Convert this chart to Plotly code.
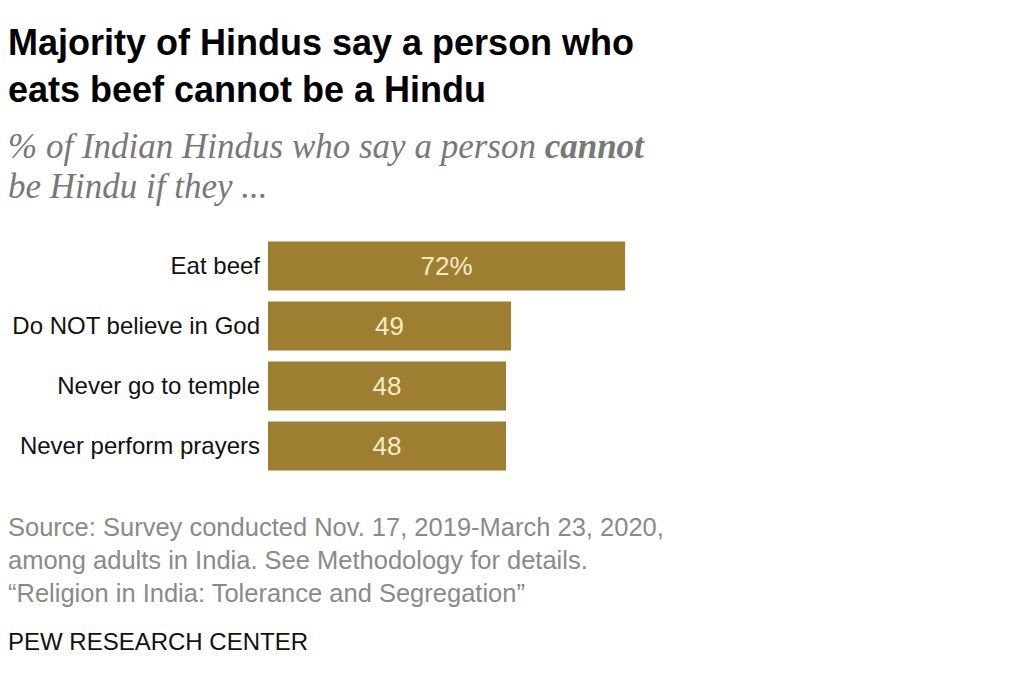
import plotly.graph_objects as go

# data
categories = ["Eat beef", "Do NOT believe in God", "Never go to temple", "Never perform prayers"]
values = [72, 49, 48, 48]
value_labels = ["72%", "49", "48", "48"]

title_text = "<b>Majority of Hindus say a person who<br>eats beef cannot be a Hindu</b>"
subtitle_lines = [
    "<i>% of Indian Hindus who say a person <b>cannot</b></i>",
    "<i>be Hindu if they ...</i>",
]
source_lines = [
    "Source: Survey conducted Nov. 17, 2019-March 23, 2020,",
    "among adults in India. See Methodology for details.",
    "\u201cReligion in India: Tolerance and Segregation\u201d",
]
credit_text = "PEW RESEARCH CENTER"

W, H = 1024, 680
OFF = 8  # page body margin, screen px = figure px + OFF
ML, MR, MT, MB = 260, 100, 228, 212
PW, PH = W - ML - MR, H - MT - MB
PX_PER_PCT = 4.96

BAR_COLOR = "#9E7F32"
SANS = "Liberation Sans, Arial, sans-serif"
SERIF = "Liberation Serif, Georgia, serif"


def px_x(p):
    # screen px -> paper x
    return (p - OFF - ML) / PW


def px_y(p):
    # screen px -> paper y
    return 1 - (p - OFF - MT) / PH


def text_note(text, x, y, size, color, family=SANS, yanchor="middle"):
    return dict(text=text, x=px_x(x), y=px_y(y), xanchor="left", yanchor=yanchor,
                align="left", showarrow=False, xref="paper", yref="paper",
                font=dict(family=family, size=size, color=color))


fig = go.Figure()
fig.add_trace(go.Bar(
    x=values,
    y=categories,
    orientation="h",
    marker=dict(color=BAR_COLOR, line=dict(width=0)),
    text=value_labels,
    textposition="inside",
    insidetextanchor="middle",
    textfont=dict(color="#F6EBC8", size=26, family=SANS),
    hoverinfo="skip",
))

annotations = [text_note(title_text, 6, 20, 36, "#000000", yanchor="top")]
for i, line in enumerate(subtitle_lines):
    annotations.append(text_note(line, 6, 146 + 40 * i, 35, "#787878", family=SERIF))
for i, line in enumerate(source_lines):
    annotations.append(text_note(line, 6, 527 + 33 * i, 25.5, "#8A8A8A"))
annotations.append(text_note(credit_text, 6, 641, 24, "#111111"))

fig.update_layout(
    width=W, height=H,
    margin=dict(l=ML, r=MR, t=MT, b=MB),
    paper_bgcolor="white", plot_bgcolor="white",
    showlegend=False,
    bargap=0.18,
    annotations=annotations,
    xaxis=dict(range=[0, PW / PX_PER_PCT], visible=False, fixedrange=True),
    yaxis=dict(autorange="reversed", showgrid=False, zeroline=False, showline=False,
               ticks="", ticklabelstandoff=7, automargin=False, fixedrange=True,
               tickfont=dict(family=SANS, size=24, color="#111111")),
)

fig.write_html("out.html")
